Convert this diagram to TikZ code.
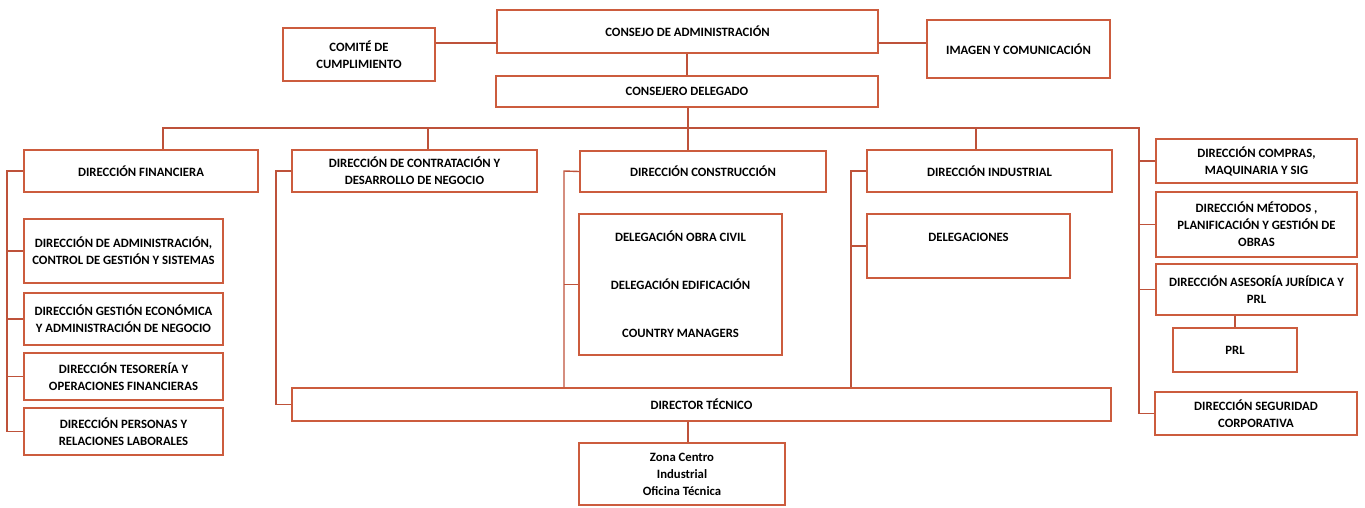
\documentclass[tikz,border=0pt]{standalone}
\usepackage{fontspec}
\setmainfont{Carlito}
\usetikzlibrary{calc}
\definecolor{boxc}{RGB}{204,92,62}
\definecolor{linec}{RGB}{190,82,58}
\begin{document}
\begin{tikzpicture}[x=1pt,y=-1pt,
  txt/.style={font=\fontsize{12.7}{17}\selectfont\bfseries},
  box/.style={draw=boxc, line width=1.8pt, fill=white, inner sep=1pt, align=center, txt},
  conn/.style={draw=linec, line width=1.4pt}]
\useasboundingbox (0,0) rectangle (1365,507);
% top
\node[box, minimum width=152, minimum height=53] (com) at (359,54.5) {COMITÉ DE\\CUMPLIMIENTO};
\node[box, minimum width=381, minimum height=43] (cons) at (687.5,31.5) {CONSEJO DE ADMINISTRACIÓN};
\node[box, minimum width=183, minimum height=58] (img) at (1018.5,49) {IMAGEN Y COMUNICACIÓN};
\node[box, minimum width=382, minimum height=31] (cdel) at (687,91.5) {CONSEJERO DELEGADO};
% level 2
\node[box, minimum width=234, minimum height=42] (fin) at (141,171) {DIRECCIÓN FINANCIERA};
\node[box, minimum width=245, minimum height=42] (con) at (414.5,171) {DIRECCIÓN DE CONTRATACIÓN Y\\DESARROLLO DE NEGOCIO};
\node[box, minimum width=246, minimum height=41] (cstr) at (703,171.5) {DIRECCIÓN CONSTRUCCIÓN};
\node[box, minimum width=245, minimum height=42] (ind) at (989.5,171) {DIRECCIÓN INDUSTRIAL};
% right column
\node[box, minimum width=201, minimum height=44] (cmp) at (1256.5,161) {DIRECCIÓN COMPRAS,\\MAQUINARIA Y SIG};
\node[box, minimum width=201, minimum height=65] (met) at (1256.5,224.5) {DIRECCIÓN MÉTODOS ,\\PLANIFICACIÓN Y GESTIÓN DE\\OBRAS};
\node[box, minimum width=201, minimum height=51] (ase) at (1256.5,289.5) {DIRECCIÓN ASESORÍA JURÍDICA Y\\PRL};
\node[box, minimum width=124, minimum height=44] (prl) at (1235,350) {PRL};
\node[box, minimum width=202, minimum height=43] (seg) at (1256,413.5) {DIRECCIÓN SEGURIDAD\\CORPORATIVA};
% left column
\node[box, minimum width=199, minimum height=64] (adm) at (123.5,251) {DIRECCIÓN DE ADMINISTRACIÓN,\\CONTROL DE GESTIÓN Y SISTEMAS};
\node[box, minimum width=199, minimum height=52] (gec) at (123.5,319) {DIRECCIÓN GESTIÓN ECONÓMICA\\Y ADMINISTRACIÓN DE NEGOCIO};
\node[box, minimum width=199, minimum height=47] (tes) at (123.5,376.5) {DIRECCIÓN TESORERÍA Y\\OPERACIONES FINANCIERAS};
\node[box, minimum width=199, minimum height=47] (per) at (123.5,431.5) {DIRECCIÓN PERSONAS Y\\RELACIONES LABORALES};
% middle
\node[box, minimum width=203, minimum height=141] (del) at (680.5,284.5) {DELEGACIÓN OBRA CIVIL\\[31pt]DELEGACIÓN EDIFICACIÓN\\[31pt]COUNTRY MANAGERS};
\node[box, minimum width=203, minimum height=64, label={[txt, anchor=north, yshift=-17pt]north:DELEGACIONES}] (dlg) at (968.5,246) {};
\node[box, minimum width=819, minimum height=33] (dt) at (701.5,404.5) {DIRECTOR TÉCNICO};
\node[box, minimum width=206, minimum height=62] (zona) at (682,474) {Zona Centro\\Industrial\\Oficina Técnica};
% coordinates
\coordinate (ly) at (0,43);
\coordinate (b1) at (163,128);
\coordinate (b2) at (428,128);
\coordinate (b3) at (688,128);
\coordinate (b4) at (976,128);
\coordinate (b5) at (1139,128);
\coordinate (fl) at (7,171);
\coordinate (cl) at (276,171);
\coordinate (sl) at (564,171);
\coordinate (il) at (851,171);
\coordinate (zx) at (688,430);
% connectors
\draw[conn] (com.east |- ly) -- (cons.west |- ly);
\draw[conn] (cons.east |- ly) -- (img.west |- ly);
\draw[conn] (cons.south -| cdel.north) -- (cdel.north);
\draw[conn] (cdel.south -| b3) -- (b3 |- cstr.north);
\draw[conn] (b1 |- fin.north) -- (b1) -- (b5) -- (b5 |- seg.west) -- (seg.west);
\draw[conn] (b2) -- (b2 |- con.north);
\draw[conn] (b4) -- (b4 |- ind.north);
\draw[conn] (b5 |- cmp.west) -- (cmp.west);
\draw[conn] (b5 |- met.west) -- (met.west);
\draw[conn] (b5 |- ase.west) -- (ase.west);
\draw[conn] (prl.north |- ase.south) -- (prl.north);
\draw[conn] (fin.west) -- (fl) -- (fl |- per.west) -- (per.west);
\draw[conn] (fl |- adm.west) -- (adm.west);
\draw[conn] (fl |- gec.west) -- (gec.west);
\draw[conn] (fl |- tes.west) -- (tes.west);
\draw[conn] (con.west) -- (cl) -- (cl |- dt.west) -- (dt.west);
\draw[conn] (cstr.west) -- (sl) -- (sl |- dt.north);
\draw[conn] (sl |- del.west) -- (del.west);
\draw[conn] (ind.west) -- (il) -- (il |- dt.north);
\draw[conn] (il |- dlg.west) -- (dlg.west);
\draw[conn] (zx |- dt.south) -- (zx |- zona.north);
\end{tikzpicture}
\end{document}
